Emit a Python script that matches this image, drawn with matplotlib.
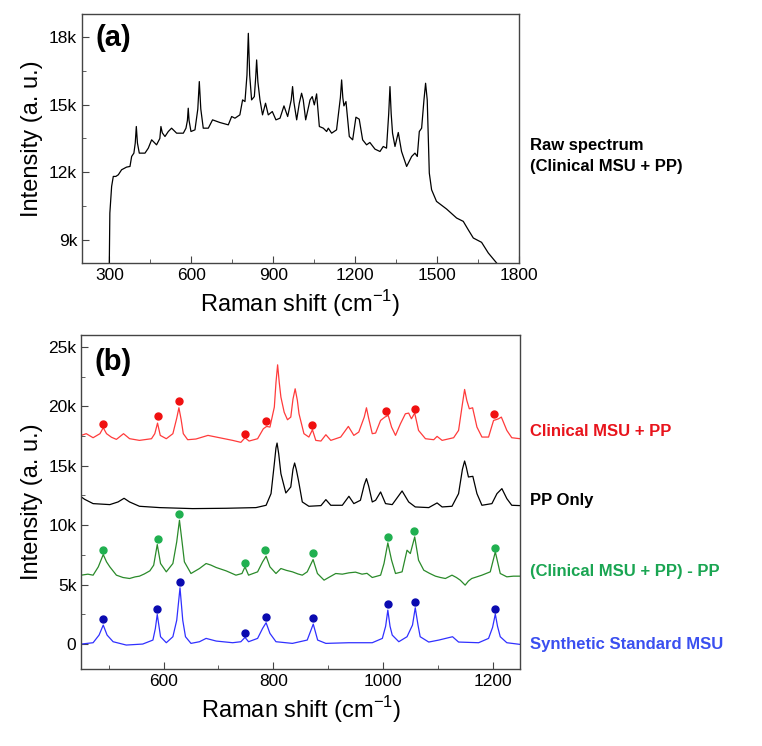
import numpy as np
import matplotlib
matplotlib.use('Agg')
import matplotlib.pyplot as plt
from matplotlib.ticker import MultipleLocator, FuncFormatter
import matplotlib.transforms as mtransforms

plt.rcParams['font.family'] = ['Liberation Sans', 'DejaVu Sans']
plt.rcParams['mathtext.fontset'] = 'custom'
plt.rcParams['mathtext.rm'] = 'Liberation Sans'

# (a) raw spectrum
raw_x = [300, 302, 308.5, 314.6, 324, 333, 345, 363, 375.7, 381.8, 390, 395, 398.9, 403, 409.8,
         430.6, 442.8, 455, 473, 485, 489, 494, 503.8, 516, 528, 546.5, 571, 580.7, 586, 589,
         592, 599, 613.6, 624, 629.5, 635, 644, 662.5, 678, 705, 735.7, 748, 760, 778, 788,
         796.7, 804, 809, 814, 821, 831, 836, 839.4, 844, 851.6, 861, 872, 882, 896.8, 910, 925,
         939.5, 953, 966, 971, 976, 986, 995.6, 1004, 1010, 1019, 1035, 1043, 1050.6, 1059,
         1069, 1083.5, 1095.7, 1101.8, 1114, 1132, 1146, 1150.6, 1155, 1159, 1166.5, 1178.7,
         1191, 1203, 1215, 1227.5, 1242, 1254, 1272.7, 1291, 1303, 1315, 1323, 1327.6, 1332,
         1337, 1346, 1358, 1370, 1388.6, 1407, 1419, 1427.6, 1435, 1443.5, 1452, 1458, 1464,
         1471.6, 1480, 1498, 1535, 1571.6, 1596, 1614, 1632.7, 1663, 1687.6, 1718]
raw_y = [8000, 10206, 11382, 11824, 11824, 11897, 12118, 12235, 12265, 12706, 12853, 13300,
         14030, 13300, 12853, 12853, 13074, 13441, 13220, 13500, 14030, 13750, 13588, 13809,
         13956, 13735, 13735, 13956, 14300, 14838, 14300, 13809, 13882, 14800, 16015, 14800,
         13956, 13956, 14324, 14206, 14103, 14471, 14397, 14544, 15206, 15132, 16300, 18147,
         16300, 15206, 15353, 16200, 16971, 16000, 15206, 14544, 15059, 14544, 14691, 14324,
         14397, 14941, 14471, 15200, 15794, 15100, 14324, 15059, 15500, 15206, 14324, 15206,
         15353, 14985, 15471, 14030, 13956, 13809, 13956, 13735, 13882, 15300, 16088, 15300,
         14941, 15132, 13588, 13441, 14441, 14353, 13441, 13220, 13324, 13030, 12926, 13147,
         13074, 14600, 15794, 14600, 13735, 13147, 13765, 12926, 12265, 12706, 12853, 12706,
         13809, 13956, 15200, 15941, 15206, 11971, 11235, 10721, 10382, 9985, 9838, 9471, 9103,
         8912, 8441, 8000]

# (b) offset spectra
red_x = [450, 459, 471.5, 484, 490, 496, 505, 514, 527, 538, 556, 578, 584, 589, 594, 605, 617,
         624, 628, 632, 636, 644, 659, 681, 702, 726, 741, 748.5, 756, 771.5, 782, 788, 794, 802,
         805, 808, 811, 814, 820, 826, 832, 836, 840, 844, 847, 856, 865, 871.5, 877.6, 887, 896,
         905, 923, 937, 947, 956, 966, 970, 974, 980.6, 986.7, 995.8, 1003.6, 1009.7, 1015.8,
         1023, 1032, 1041, 1047, 1052, 1058, 1065, 1077.6, 1092.7, 1098.8, 1108, 1129, 1138,
         1145, 1149, 1153, 1157.6, 1163.6, 1171.5, 1180.6, 1192.7, 1201.8, 1206, 1211, 1216,
         1226, 1235, 1250]
red_y = [17556, 17700, 17360, 17700, 18200, 17700, 17400, 17220, 17700, 17280, 17136, 17276,
         17700, 18590, 17556, 17276, 17700, 19000, 19880, 18900, 17700, 17192, 17250, 17556,
         17360, 17136, 16970, 17360, 17080, 17276, 18116, 18312, 18256, 19936, 22000, 23492,
         22000, 20776, 19500, 18872, 19096, 20600, 21476, 20500, 19376, 17700, 17416, 18032,
         17136, 17080, 17612, 17136, 17416, 18312, 17556, 17836, 19100, 19880, 19000, 17700,
         17752, 18816, 19096, 19236, 18256, 17556, 18536, 19376, 19432, 18956, 19432, 17976,
         17276, 17192, 17472, 17136, 17360, 17976, 20200, 21420, 20500, 19796, 19880, 18256,
         17416, 17416, 18816, 18872, 18956, 19096, 17976, 17360, 17276]

pp_x = [450, 456, 471.5, 502, 517, 528, 538, 556, 593, 653, 714, 768.5, 787, 796, 802, 805, 807,
        810, 814, 823, 832, 836, 839, 842, 846, 853, 865, 887, 896, 905, 926, 938, 947, 959, 966,
        970, 974, 980.6, 986.7, 995.8, 1004.8, 1017, 1035, 1047, 1059, 1083.6, 1098.8, 1108,
        1126, 1138, 1145, 1149, 1152, 1156, 1164, 1171.5, 1180.6, 1198.8, 1208, 1217, 1226,
        1235, 1250]
pp_y = [12376, 12180, 11816, 11732, 11956, 12264, 11956, 11592, 11480, 11396, 11424, 11480,
        11676, 12656, 15176, 16500, 16912, 16000, 14336, 12712, 13216, 14700, 15232, 14700,
        13776, 11956, 11592, 11648, 12152, 11676, 11676, 12432, 11816, 12096, 13400, 13916,
        13300, 11956, 12096, 12796, 11816, 11732, 12880, 11956, 11536, 11480, 11872, 11536,
        11592, 12656, 14700, 15400, 14900, 14056, 14112, 12656, 11676, 11816, 12656, 13076,
        12236, 11676, 11648]

diff_x = [450, 462, 471.5, 481, 490, 496, 502, 514, 526, 538, 548, 556, 565, 575, 582, 588.5,
          594.5, 605, 617, 624, 629, 634, 638, 650, 665.5, 677.6, 686, 696, 705, 714, 723, 732,
          743, 748.5, 755, 771.5, 780.6, 787, 794, 805, 814, 824, 835, 845, 853, 862, 872.7,
          880.6, 892.7, 903, 914, 926, 938, 950, 962, 971, 980.6, 995.8, 1002, 1009, 1015.8,
          1023, 1035, 1044, 1050, 1058, 1065, 1074.5, 1085, 1095.8, 1105, 1114, 1126, 1134, 1141,
          1150, 1156, 1162, 1171, 1180.6, 1195.8, 1205, 1214, 1226, 1238, 1250]
diff_y = [5796, 5880, 5796, 6496, 7532, 6916, 6496, 5796, 5600, 5516, 5650, 5712, 5900, 6160,
          6636, 8372, 6776, 6076, 6776, 8600, 10416, 8500, 6916, 5936, 6356, 6776, 6650, 6440,
          6300, 6160, 5980, 5796, 5936, 6496, 5796, 6076, 6916, 7392, 6496, 5936, 6356, 6200,
          6076, 5900, 5796, 6076, 7112, 5936, 5376, 5650, 5936, 5880, 5992, 6050, 5880, 5950,
          5600, 5796, 6776, 8512, 7056, 5936, 6076, 7896, 7616, 9016, 7056, 6216, 5950, 5712,
          5600, 5516, 5796, 5600, 5376, 4956, 5300, 5516, 5650, 5796, 6076, 7756, 5936, 5656,
          5712, 5712]

std_x = [450, 471.5, 482.4, 490, 497, 508, 532, 562, 580.6, 585, 588.5, 592, 594.5, 605, 617,
         624, 630, 635, 640, 650, 665.5, 677.6, 696, 726, 741, 748.5, 755, 771.5, 780.6, 787, 794,
         805, 835, 862, 873, 881, 896, 938, 980.6, 999, 1005, 1009, 1013, 1017, 1029, 1044, 1054,
         1059, 1064, 1068, 1083.6, 1102, 1127, 1138, 1174.5, 1192.7, 1200, 1205, 1209, 1214,
         1226, 1250]
std_y = [0, 112, 756, 1596, 756, 196, -84, 0, 336, 1300, 2492, 1400, 616, 112, 616, 2000, 4732,
         2000, 616, 56, 196, 476, 252, 112, 196, 560, 196, 476, 1316, 1792, 896, 196, 56, 336,
         1680, 336, 56, 112, 112, 476, 1500, 2856, 1500, 756, 196, 616, 1600, 3052, 1600, 616,
         168, 336, 616, 168, 112, 476, 1400, 2520, 1500, 616, 112, -28]

# marked peaks
red_dot_x = [489.7, 589.1, 627.9, 748.5, 786.7, 871.5, 1004.8, 1058.2, 1203]
red_dot_y = [18536, 19180, 20440, 17696, 18760, 18452, 19600, 19796, 19376]
green_dot_x = [489.7, 589.1, 629, 748.5, 785.5, 872.7, 1009.7, 1057.6, 1204.8]
green_dot_y = [7952, 8876, 10920, 6832, 7952, 7672, 9016, 9492, 8092]
blue_dot_x = [489.7, 588.5, 630.3, 748.5, 786.7, 873.3, 1008.5, 1059.4, 1204.8]
blue_dot_y = [2072, 2968, 5236, 952, 2240, 2212, 3332, 3528, 2968]

labels_b = ['Clinical MSU + PP', 'PP Only', '(Clinical MSU + PP) - PP', 'Synthetic Standard MSU']
label_b_y = [17900, 12100, 6130, 0]
label_b_colors = ['#e8141c', 'black', '#1aa552', '#3a4ff0']


def kfmt(v, pos):
    if v == 0:
        return '0'
    return '%dk' % int(round(v / 1000))


def style_axes(ax):
    for s in ax.spines.values():
        s.set_color('#444444')
        s.set_linewidth(1.0)
    ax.tick_params(which='both', direction='in', top=False, right=False, labelsize=12.5,
                   color='#444444')
    ax.tick_params(which='major', length=5)
    ax.tick_params(which='minor', length=3)
    ax.yaxis.set_major_formatter(FuncFormatter(kfmt))


xlab = r'Raman shift (cm$^{\mathregular{-1}}$)'

fig = plt.figure(figsize=(7.62, 7.46), dpi=100)

ax1 = fig.add_axes([0.1076, 0.6475, 0.5735, 0.3337])
ax1.plot(raw_x, raw_y, color='black', lw=0.9)
ax1.set_xlim(200, 1800)
ax1.set_ylim(8000, 19000)
ax1.xaxis.set_major_locator(MultipleLocator(300))
ax1.xaxis.set_minor_locator(MultipleLocator(150))
ax1.yaxis.set_major_locator(MultipleLocator(3000))
ax1.yaxis.set_minor_locator(MultipleLocator(1500))
style_axes(ax1)
ax1.set_xlabel(xlab, fontsize=17)
ax1.set_ylabel('Intensity (a. u.)', fontsize=17)
ax1.text(0.03, 0.905, '(a)', transform=ax1.transAxes, fontsize=21, fontweight='bold',
         ha='left', va='center')
ax1.text(1.025, 0.43, 'Raw spectrum\n(Clinical MSU + PP)', transform=ax1.transAxes,
         fontsize=12, fontweight='bold', ha='left', va='center', linespacing=1.45)

ax2 = fig.add_axes([0.1067, 0.1032, 0.5757, 0.4477])
ax2.plot(red_x, red_y, color='#ff3b3b', lw=0.9)
ax2.plot(pp_x, pp_y, color='black', lw=0.9)
ax2.plot(diff_x, diff_y, color='#2a8a2a', lw=0.9)
ax2.plot(std_x, std_y, color='#3030ff', lw=0.9)
ax2.plot(red_dot_x, red_dot_y, 'o', color='#f01010', ms=5)
ax2.plot(green_dot_x, green_dot_y, 'o', color='#20b050', ms=5)
ax2.plot(blue_dot_x, blue_dot_y, 'o', color='#0a0ab0', ms=5)
ax2.set_xlim(450, 1250)
ax2.set_ylim(-2100, 26000)
ax2.xaxis.set_major_locator(MultipleLocator(200))
ax2.xaxis.set_minor_locator(MultipleLocator(100))
ax2.yaxis.set_major_locator(MultipleLocator(5000))
ax2.yaxis.set_minor_locator(MultipleLocator(2500))
style_axes(ax2)
ax2.set_xlabel(xlab, fontsize=17)
ax2.set_ylabel('Intensity (a. u.)', fontsize=17)
ax2.text(0.03, 0.919, '(b)', transform=ax2.transAxes, fontsize=21, fontweight='bold',
         ha='left', va='center')
trans = mtransforms.blended_transform_factory(ax2.transAxes, ax2.transData)
for i in range(len(labels_b)):
    ax2.text(1.023, label_b_y[i], labels_b[i], transform=trans, color=label_b_colors[i],
             fontsize=12, fontweight='bold', ha='left', va='center')

fig.savefig('out.png', dpi=100)
